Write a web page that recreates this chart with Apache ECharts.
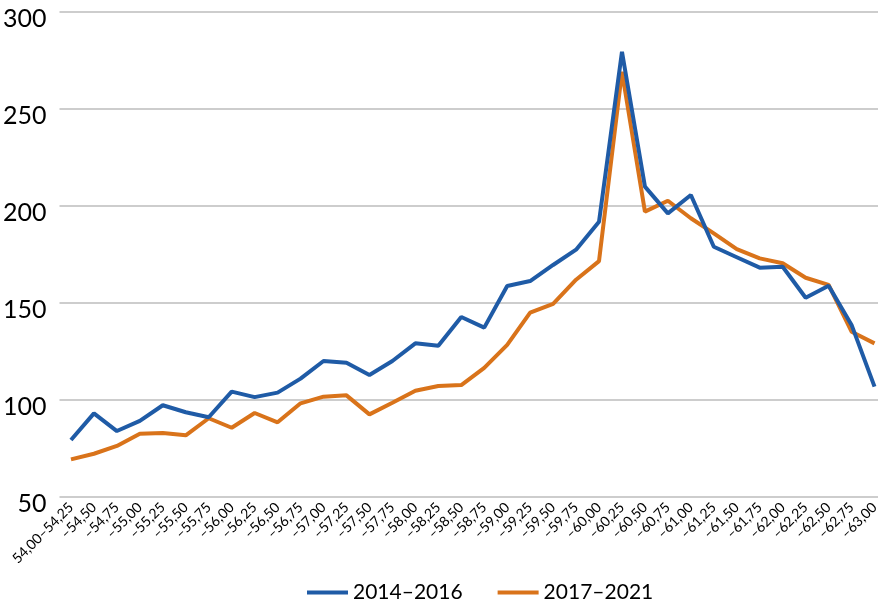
<!DOCTYPE html>
<html>
<head>
<meta charset="utf-8">
<script src="https://cdn.jsdelivr.net/npm/echarts@6/dist/echarts.min.js"></script>
<style>
  html, body { margin: 0; padding: 0; background: #ffffff; overflow: hidden; }
  /* the plot area runs slightly past the right edge of the window */
  #chart { width: 886px; height: 602px; }
</style>
</head>
<body>
<div id="chart"></div>
<script>
// Latitude bands (degrees south), 0.25° steps
const categories = [
  '54,00–54,25', '–54,50', '–54,75', '–55,00', '–55,25', '–55,50', '–55,75', '–56,00',
  '–56,25', '–56,50', '–56,75', '–57,00', '–57,25', '–57,50', '–57,75', '–58,00',
  '–58,25', '–58,50', '–58,75', '–59,00', '–59,25', '–59,50', '–59,75', '–60,00',
  '–60,25', '–60,50', '–60,75', '–61,00', '–61,25', '–61,50', '–61,75', '–62,00',
  '–62,25', '–62,50', '–62,75', '–63,00'
];

const seriesNames = ['2014–2016', '2017–2021'];

const values2014_2016 = [
  79.4, 93.1, 84.0, 89.2, 97.3, 93.7, 91.1, 104.3, 101.5, 103.8,
  111.0, 120.1, 119.2, 112.9, 120.1, 129.2, 128.0, 142.8, 137.3, 158.8,
  161.3, 169.6, 177.5, 191.9, 279.5, 210.0, 196.2, 205.7, 179.0, 173.6,
  168.2, 168.7, 152.7, 158.9, 138.7, 106.9
];

const values2017_2021 = [
  69.4, 72.3, 76.3, 82.6, 83.0, 81.8, 90.6, 85.7, 93.3, 88.5,
  98.3, 101.7, 102.4, 92.6, 98.6, 104.8, 107.2, 107.7, 116.6, 128.4,
  145.0, 149.6, 162.0, 171.6, 269.2, 197.1, 202.7, 193.7, 185.9, 177.8,
  173.0, 170.5, 163.0, 159.3, 135.2, 129.2
];

const yTicks = { min: 50, max: 300, interval: 50 };

const colors = ['#1f5ba6', '#d9731a'];
const fontFamily = 'Lato, "Open Sans", sans-serif';

const chart = echarts.init(document.getElementById('chart'), null, { renderer: 'canvas' });

chart.setOption({
  animation: false,
  backgroundColor: '#ffffff',
  color: colors,
  textStyle: { fontFamily: fontFamily, color: '#000000' },
  grid: { left: 57, top: 12, right: 0, bottom: 105, containLabel: false },
  legend: {
    data: seriesNames,
    top: 577,
    left: 302,
    icon: 'rect',
    itemWidth: 41,
    itemHeight: 4,
    itemGap: 35,
    textStyle: { fontFamily: fontFamily, fontSize: 21, color: '#000000' }
  },
  xAxis: {
    type: 'category',
    data: categories,
    boundaryGap: true,
    axisLine: { show: false },
    axisTick: { show: false },
    axisLabel: {
      interval: 0,
      rotate: 45,
      margin: 8,
      fontSize: 14,
      fontFamily: fontFamily,
      color: '#000000'
    }
  },
  yAxis: {
    type: 'value',
    min: yTicks.min,
    max: yTicks.max,
    interval: yTicks.interval,
    axisLine: { show: false },
    axisTick: { show: false },
    splitLine: { lineStyle: { color: '#bcbcbc', width: 1.5 } },
    axisLabel: {
      fontSize: 25,
      fontFamily: fontFamily,
      color: '#000000',
      margin: 13,
      verticalAlign: 'top',
      lineHeight: 14
    }
  },
  series: [
    {
      name: seriesNames[0],
      type: 'line',
      data: values2014_2016,
      symbol: 'none',
      lineStyle: { width: 4, color: colors[0] },
      z: 3
    },
    {
      name: seriesNames[1],
      type: 'line',
      data: values2017_2021,
      symbol: 'none',
      lineStyle: { width: 4, color: colors[1] },
      z: 2
    }
  ]
});
</script>
</body>
</html>
